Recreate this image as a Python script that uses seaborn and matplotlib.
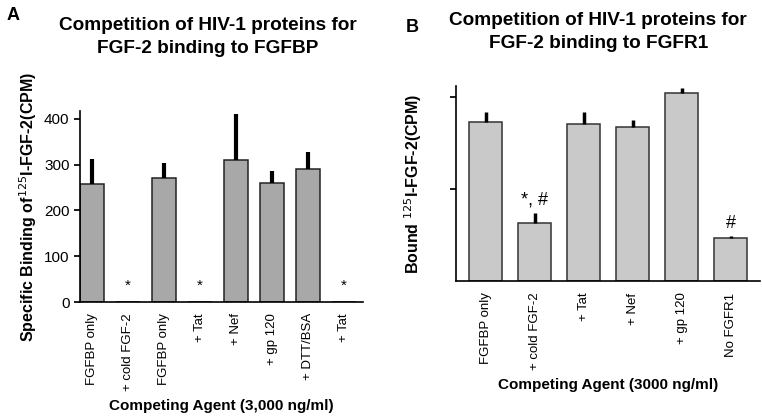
import numpy as np
import pandas as pd
import matplotlib
matplotlib.use("Agg")
import matplotlib.pyplot as plt
import seaborn as sns

# Panel A data
labelsA = ["FGFBP only", "+ cold FGF-2", "FGFBP only", "+ Tat", "+ Nef", "+ gp 120", "+ DTT/BSA", "+ Tat"]
valuesA = [258, 0, 270, 0, 309, 259, 291, 0]
errA = [54, 0, 34, 0, 102, 28, 37, 0]
starsA = ["*", "*", "*"]
starPosA = [1, 3, 7]
starY_A = [35, 35, 35]

# Panel B data (arbitrary units, no tick labels in original)
labelsB = ["FGFBP only", "+ cold FGF-2", "+ Tat", "+ Nef", "+ gp 120", "No FGFR1"]
valuesB = [1723, 628, 1700, 1675, 2037, 466]
errB = [114, 115, 130, 69, 57, 24]
marksB = ["*, #", "#"]
markPosB = [1, 5]
markY_B = [880, 630]

sns.set_theme(style="ticks")
plt.rcParams["font.family"] = ["Liberation Sans", "DejaVu Sans"]
plt.rcParams["text.color"] = "black"
plt.rcParams["axes.labelcolor"] = "black"
plt.rcParams["xtick.color"] = "black"
plt.rcParams["ytick.color"] = "black"
plt.rcParams["axes.edgecolor"] = "black"

fig = plt.figure(figsize=(7.62, 4.18), dpi=100)
axA = fig.add_axes([0.105, 0.2775, 0.371, 0.457])
axB = fig.add_axes([0.599, 0.327, 0.398, 0.467])

dfA = pd.DataFrame({"pos": [str(i) for i in range(len(labelsA))], "val": valuesA})
dfB = pd.DataFrame({"pos": [str(i) for i in range(len(labelsB))], "val": valuesB})

sns.barplot(data=dfA, x="pos", y="val", ax=axA, color="#a8a8a8", saturation=1,
            width=0.67, edgecolor="#222222", linewidth=1.1, errorbar=None)
sns.barplot(data=dfB, x="pos", y="val", ax=axB, color="#c9c9c9", saturation=1,
            width=0.67, edgecolor="#333333", linewidth=1.1, errorbar=None)

xa = np.arange(len(labelsA))
axA.errorbar(xa, valuesA, yerr=[np.zeros(len(errA)), errA], fmt="none",
             ecolor="black", elinewidth=3, capsize=0)
xb = np.arange(len(labelsB))
axB.errorbar(xb, valuesB, yerr=[np.zeros(len(errB)), errB], fmt="none",
             ecolor="black", elinewidth=2.5, capsize=0)

for p, y, s in zip(starPosA, starY_A, starsA):
    axA.text(p, y, s, ha="center", va="center", fontsize=11)
for p, y, s in zip(markPosB, markY_B, marksB):
    axB.text(p, y, s, ha="center", va="center", fontsize=13)

axA.set_xlim(-0.33, 7.53)
axA.set_ylim(0, 417)
axA.set_yticks([0, 100, 200, 300, 400])
axA.set_xticks(xa)
axA.set_xticklabels(labelsA, rotation=90, fontsize=9.5)
axA.tick_params(axis="y", labelsize=11, length=4)
axA.tick_params(axis="x", length=0, pad=8)
axA.set_xlabel("Competing Agent (3,000 ng/ml)", fontsize=11, fontweight="bold", labelpad=6)
axA.set_ylabel("Specific Binding of$^{125}$I-FGF-2(CPM)", fontsize=11.5, fontweight="bold", labelpad=4)

axB.set_xlim(-0.6, 5.59)
axB.set_ylim(0, 2115)
axB.set_yticks([1000, 2000])
axB.set_yticklabels([])
axB.set_xticks(xb)
axB.set_xticklabels(labelsB, rotation=90, fontsize=9.5)
axB.tick_params(axis="y", length=4)
axB.tick_params(axis="x", length=0, pad=8)
axB.set_xlabel("Competing Agent (3000 ng/ml)", fontsize=11, fontweight="bold", labelpad=6)
axB.set_ylabel("Bound $^{125}$I-FGF-2(CPM)", fontsize=11.5, fontweight="bold", labelpad=16)

for ax in (axA, axB):
    sns.despine(ax=ax)
    ax.spines["left"].set_linewidth(1.2)
    ax.spines["bottom"].set_linewidth(1.2)

fig.text(0.273, 0.940, "Competition of HIV-1 proteins for", ha="center",
         va="center", fontsize=13.7, fontweight="bold")
fig.text(0.273, 0.885, "FGF-2 binding to FGFBP", ha="center",
         va="center", fontsize=13.7, fontweight="bold")
fig.text(0.785, 0.952, "Competition of HIV-1 proteins for", ha="center",
         va="center", fontsize=13.7, fontweight="bold")
fig.text(0.785, 0.897, "FGF-2 binding to FGFR1", ha="center",
         va="center", fontsize=13.7, fontweight="bold")
fig.text(0.009, 0.964, "A", fontsize=13, fontweight="bold", va="center")
fig.text(0.532, 0.935, "B", fontsize=13, fontweight="bold", va="center")

fig.savefig("out.png", dpi=100)
